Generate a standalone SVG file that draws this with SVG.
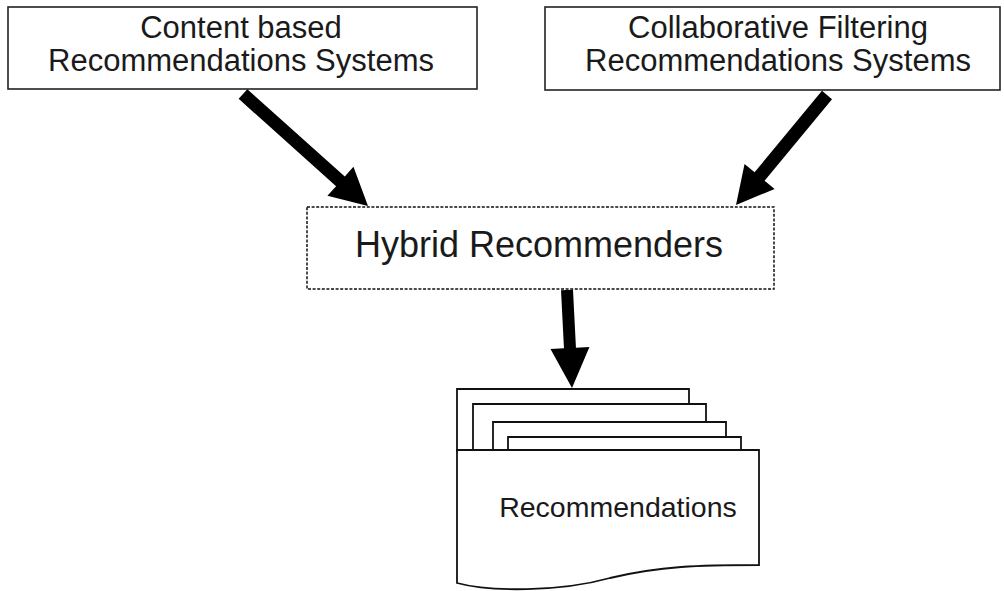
<svg xmlns="http://www.w3.org/2000/svg" width="1004" height="591" viewBox="0 0 1004 591">
  <style>
    .box { fill: #ffffff; stroke: #222222; stroke-width: 1.6; }
    .dashed { fill: #ffffff; stroke: #111111; stroke-width: 1.5; stroke-dasharray: 3 1.6; }
    .sheet { fill: #ffffff; stroke: #111111; stroke-width: 1.8; stroke-linejoin: miter; }
    .label { font-family: "Liberation Sans", Arial, sans-serif; fill: #1a1a1a; text-anchor: middle; }
    .arrow { fill: #000000; stroke: none; }
  </style>
  <rect x="0" y="0" width="1004" height="591" fill="#ffffff"/>

  <g id="content-based">
    <rect class="box" x="8" y="7" width="469" height="82"/>
    <text class="label" x="241" y="38" font-size="31">Content based</text>
    <text class="label" x="241" y="71" font-size="31">Recommendations Systems</text>
  </g>

  <g id="collaborative-filtering">
    <rect class="box" x="545" y="7" width="455" height="83"/>
    <text class="label" x="778" y="38" font-size="31">Collaborative Filtering</text>
    <text class="label" x="778" y="71" font-size="31">Recommendations Systems</text>
  </g>

  <g id="hybrid">
    <rect class="dashed" x="307" y="207" width="467" height="82"/>
    <text class="label" x="539" y="257" font-size="36">Hybrid Recommenders</text>
  </g>

  <g id="recommendations">
    <!-- stacked sheets, back to front -->
    <path class="sheet" d="M457,452 V389 H689 V452"/>
    <path class="sheet" d="M473,452 V404 H706 V452"/>
    <path class="sheet" d="M493,452 V422 H726 V452"/>
    <path class="sheet" d="M508,452 V437 H741 V452"/>
    <!-- front document with wavy bottom edge -->
    <path class="sheet" d="M457,450 H759 V565 C700,565 660,566 610,578 C560,592 490,592 457,583 Z"/>
    <text class="label" x="618" y="517" font-size="28.5">Recommendations</text>
  </g>

  <g id="connectors">
    <polygon class="arrow" points="238.66,98.84 336.10,186.15 327.43,195.84 368,206 353.45,166.78 344.78,176.47 247.34,89.16"/>
    <polygon class="arrow" points="821.99,90.86 754.57,172.35 744.56,164.06 736,205 774.60,188.92 764.59,180.63 832.01,99.14"/>
    <polygon class="arrow" points="561.01,290.31 563.97,348.36 550.49,349.04 572,388 589.43,347.06 575.95,347.74 572.99,289.69"/>
  </g>
</svg>
